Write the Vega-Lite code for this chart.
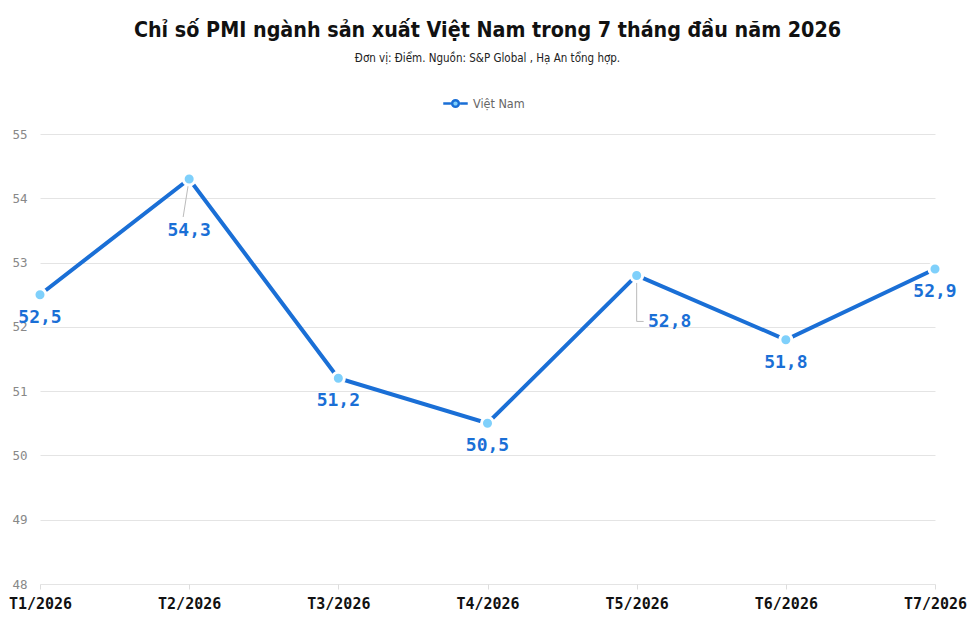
{
  "$schema": "https://vega.github.io/schema/vega-lite/v6.json",
  "width": 895,
  "height": 450,
  "autosize": {"type": "none"},
  "padding": {"left": 40, "top": 134, "right": 40, "bottom": 55},
  "background": "white",
  "title": {
    "text": "Chỉ số PMI ngành sản xuất Việt Nam trong 7 tháng đầu năm 2026",
    "subtitle": "Đơn vị: Điểm. Nguồn: S&P Global , Hạ An tổng hợp.",
    "anchor": "middle",
    "font": "DejaVu Sans Condensed",
    "fontSize": 21.3,
    "fontWeight": "bold",
    "color": "#111111",
    "subtitleFont": "DejaVu Sans Condensed",
    "subtitleFontSize": 11.5,
    "subtitleColor": "#222222",
    "subtitlePadding": 12,
    "offset": 31
  },
  "data": {
    "values": [
      {"month": "T1/2026", "value": 52.5, "label": "52,5"},
      {"month": "T2/2026", "value": 54.3, "label": "54,3"},
      {"month": "T3/2026", "value": 51.2, "label": "51,2"},
      {"month": "T4/2026", "value": 50.5, "label": "50,5"},
      {"month": "T5/2026", "value": 52.8, "label": "52,8"},
      {"month": "T6/2026", "value": 51.8, "label": "51,8"},
      {"month": "T7/2026", "value": 52.9, "label": "52,9"}
    ]
  },
  "encoding": {
    "x": {
      "field": "month",
      "type": "ordinal",
      "scale": {"type": "point", "padding": 0},
      "axis": {
        "title": null,
        "labelAngle": 0,
        "labelFont": "DejaVu Sans Mono",
        "labelFontWeight": "bold",
        "labelFontSize": 15,
        "labelColor": "#111111",
        "labelPadding": 7,
        "domain": false,
        "ticks": true,
        "tickColor": "#dddddd",
        "tickSize": 5,
        "grid": false
      }
    },
    "y": {
      "field": "value",
      "type": "quantitative",
      "scale": {"domain": [48, 55], "nice": false, "zero": false},
      "axis": {
        "title": null,
        "values": [48, 49, 50, 51, 52, 53, 54, 55],
        "labelFont": "DejaVu Sans Mono",
        "labelFontSize": 12.5,
        "labelColor": "#888888",
        "labelPadding": 13,
        "domain": false,
        "ticks": false,
        "grid": true,
        "gridColor": "#e4e4e4",
        "gridWidth": 1
      }
    }
  },
  "layer": [
    {
      "mark": {"type": "line", "strokeWidth": 4},
      "encoding": {
        "color": {
          "datum": "Việt Nam",
          "type": "nominal",
          "scale": {"range": ["#1a6fd6"]},
          "legend": {
            "title": null,
            "orient": "none",
            "legendX": 408,
            "legendY": -38,
            "symbolType": "M-2,0H-0.75M0.75,0H2M0.55,0A0.55,0.55,0,1,1,-0.55,0A0.55,0.55,0,1,1,0.55,0Z",
            "symbolSize": 150,
            "symbolStrokeWidth": 2.5,
            "symbolFillColor": "#7fd0fb",
            "symbolStrokeColor": "#1a6fd6",
            "labelFont": "DejaVu Sans Condensed",
            "labelFontSize": 12.5,
            "labelColor": "#666666",
            "labelOffset": 10
          }
        }
      }
    },
    {
      "transform": [{"filter": "datum.month === 'T2/2026'"}],
      "mark": {"type": "rule", "color": "#bbbbbb", "strokeWidth": 1, "y2Offset": 38, "x2Offset": -6},
      "encoding": {
        "x2": {"field": "month"},
        "y2": {"field": "value"}
      }
    },
    {
      "transform": [{"filter": "datum.month === 'T5/2026'"}],
      "mark": {"type": "rule", "color": "#bbbbbb", "strokeWidth": 1, "y2Offset": 46},
      "encoding": {
        "x2": {"field": "month"},
        "y2": {"field": "value"}
      }
    },
    {
      "transform": [{"filter": "datum.month === 'T5/2026'"}],
      "mark": {"type": "rule", "color": "#bbbbbb", "strokeWidth": 1, "yOffset": 46, "y2Offset": 46, "x2Offset": 7},
      "encoding": {
        "x2": {"field": "month"},
        "y2": {"field": "value"}
      }
    },
    {
      "mark": {"type": "point", "filled": true, "shape": "circle", "size": 145, "fill": "#7fd0fb", "stroke": "white", "strokeWidth": 3, "opacity": 1, "strokeOpacity": 1}
    },
    {
      "transform": [{"filter": "datum.month !== 'T2/2026' && datum.month !== 'T5/2026'"}],
      "mark": {"type": "text", "dy": 23, "font": "DejaVu Sans Mono", "fontWeight": "bold", "fontSize": 18, "color": "#1a6fd6"},
      "encoding": {"text": {"field": "label"}}
    },
    {
      "transform": [{"filter": "datum.month === 'T2/2026'"}],
      "mark": {"type": "text", "dy": 52, "font": "DejaVu Sans Mono", "fontWeight": "bold", "fontSize": 18, "color": "#1a6fd6"},
      "encoding": {"text": {"field": "label"}}
    },
    {
      "transform": [{"filter": "datum.month === 'T5/2026'"}],
      "mark": {"type": "text", "dy": 47, "dx": 33, "font": "DejaVu Sans Mono", "fontWeight": "bold", "fontSize": 18, "color": "#1a6fd6"},
      "encoding": {"text": {"field": "label"}}
    }
  ],
  "config": {
    "view": {"stroke": null}
  }
}
